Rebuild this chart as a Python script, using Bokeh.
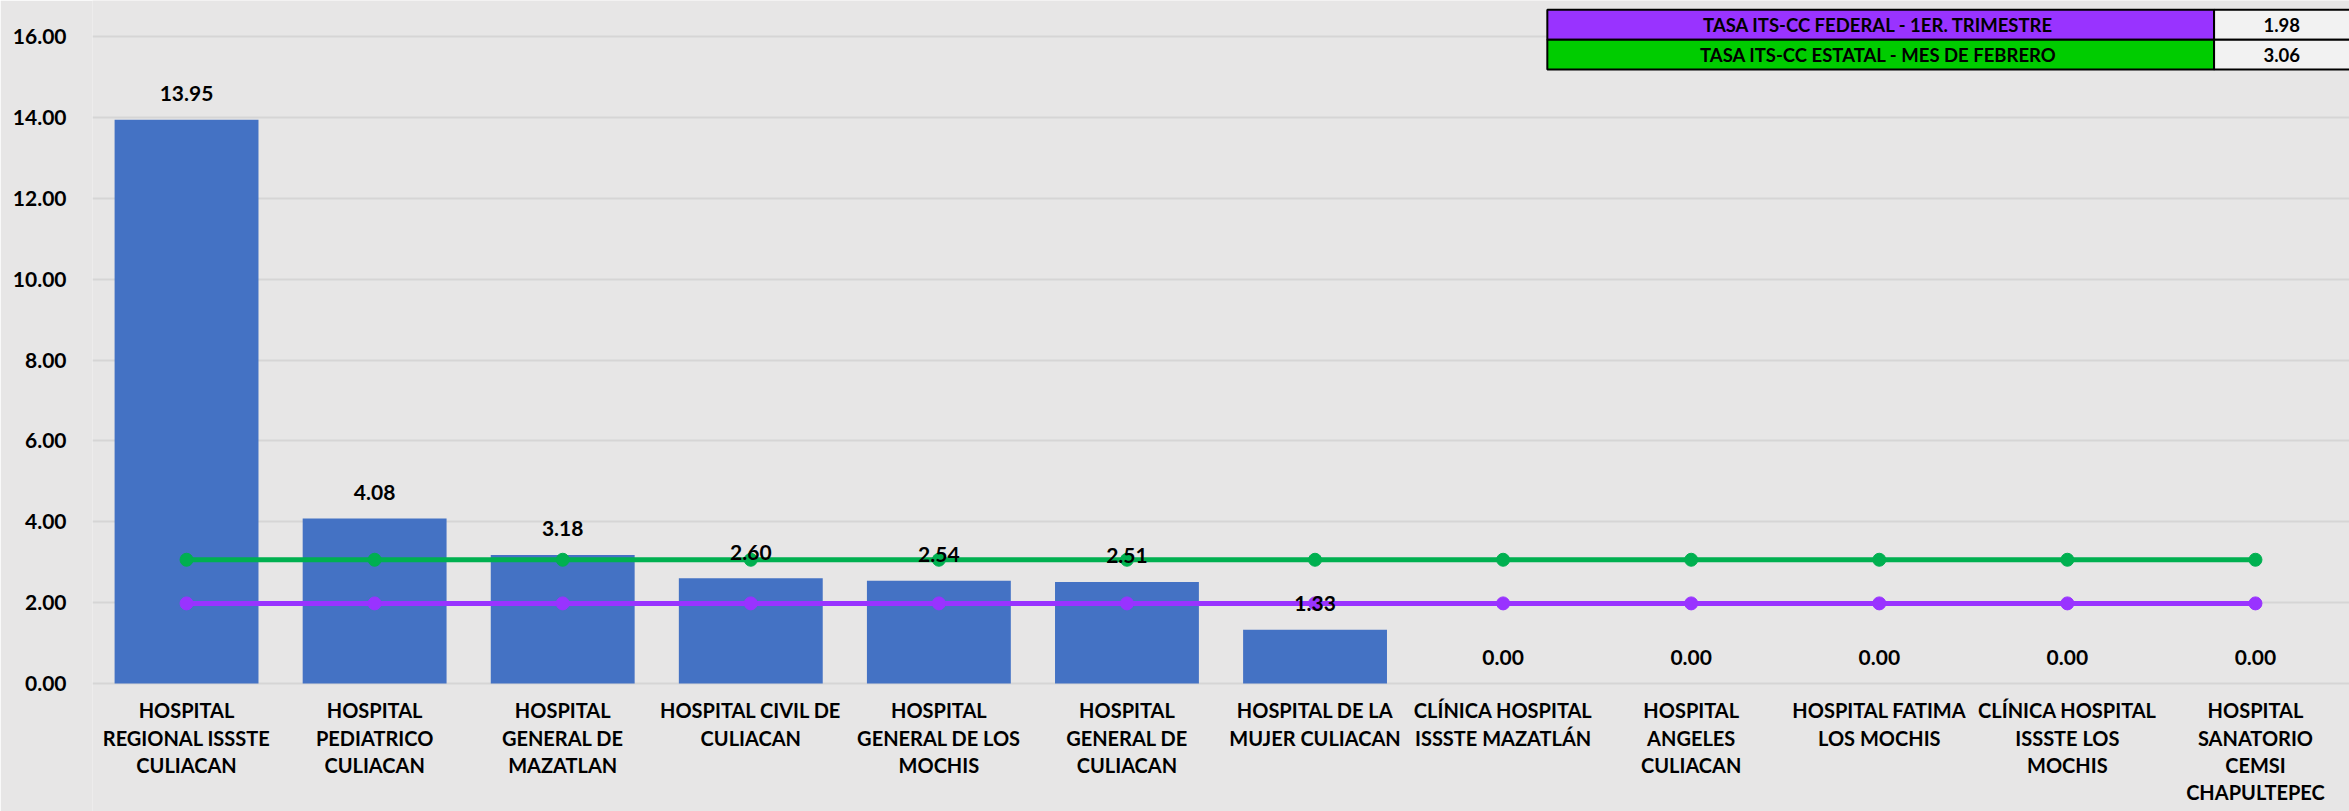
from bokeh.plotting import figure
from bokeh.models import ColumnDataSource, Range1d, FixedTicker, CustomJSTickFormatter
from bokeh.core.properties import value
from bokeh.embed import file_html
from bokeh.resources import INLINE

# ---------------- data ----------------
categories = [
    "HOSPITAL\nREGIONAL ISSSTE\nCULIACAN",
    "HOSPITAL\nPEDIATRICO\nCULIACAN",
    "HOSPITAL\nGENERAL DE\nMAZATLAN",
    "HOSPITAL CIVIL DE\nCULIACAN",
    "HOSPITAL\nGENERAL DE LOS\nMOCHIS",
    "HOSPITAL\nGENERAL DE\nCULIACAN",
    "HOSPITAL DE LA\nMUJER CULIACAN",
    "CLÍNICA HOSPITAL\nISSSTE MAZATLÁN",
    "HOSPITAL\nANGELES\nCULIACAN",
    "HOSPITAL FATIMA\nLOS MOCHIS",
    "CLÍNICA HOSPITAL\nISSSTE LOS\nMOCHIS",
    "HOSPITAL\nSANATORIO\nCEMSI\nCHAPULTEPEC",
]
tasa = [13.95, 4.08, 3.18, 2.60, 2.54, 2.51, 1.33, 0.00, 0.00, 0.00, 0.00, 0.00]
federal_label = "TASA ITS-CC FEDERAL -  1ER. TRIMESTRE"
federal_value = 1.98
estatal_label = "TASA ITS-CC  ESTATAL - MES DE FEBRERO"
estatal_value = 3.06
y_ticks = [0, 2, 4, 6, 8, 10, 12, 14, 16]

# ---------------- styling ----------------
FONT = "Lato"
BG = "#e7e6e6"
BAR = "#4472c4"
GREEN = "#00b050"
PURPLE = "#9933ff"

n = len(categories)
xs = [i + 0.5 for i in range(n)]

src = ColumnDataSource(dict(
    x=xs,
    top=tasa,
    lab=[f"{v:.2f}" for v in tasa],
    cat=categories,
    zero=[0] * n,
    fed=[federal_value] * n,
    est=[estatal_value] * n,
))

p = figure(width=2349, height=811, output_backend="svg", toolbar_location=None,
           x_range=Range1d(0, 12), y_range=Range1d(-3.17, 16.9),
           x_axis_location=None,
           min_border_left=92, min_border_right=0, min_border_top=0, min_border_bottom=0)

p.background_fill_color = BG
p.border_fill_color = BG
p.outline_line_color = None

# y axis
p.yaxis.ticker = FixedTicker(ticks=y_ticks)
p.yaxis.formatter = CustomJSTickFormatter(code="return tick.toFixed(2);")
p.yaxis.axis_line_color = None
p.yaxis.major_tick_line_color = None
p.yaxis.minor_tick_line_color = None
p.yaxis.major_label_standoff = 20
p.yaxis.major_label_text_font = FONT
p.yaxis.major_label_text_font_style = "bold"
p.yaxis.major_label_text_font_size = "21px"
p.yaxis.major_label_text_color = "#000000"

p.ygrid.ticker = FixedTicker(ticks=y_ticks)
p.ygrid.grid_line_color = "#d6d5d5"
p.ygrid.grid_line_width = 2
p.xgrid.grid_line_color = None

# bars
p.vbar(x="x", top="top", bottom=0, width=0.765, source=src,
       fill_color=BAR, line_color=None)

# reference lines
p.line(x="x", y="est", source=src, line_color=GREEN, line_width=5)
p.scatter(x="x", y="est", source=src, size=13, fill_color=GREEN, line_color=GREEN)
p.line(x="x", y="fed", source=src, line_color=PURPLE, line_width=5)
p.scatter(x="x", y="fed", source=src, size=13, fill_color=PURPLE, line_color=PURPLE)

# value labels
p.text(x="x", y="top", text="lab", source=src, y_offset=-26,
       text_align="center", text_baseline="middle",
       text_font=value(FONT), text_font_style="bold", text_font_size="21px",
       text_color="#000000")

# category labels
p.text(x="x", y="zero", text="cat", source=src, y_offset=15,
       text_align="center", text_baseline="top", text_line_height=1.13,
       text_font=value(FONT), text_font_style="bold", text_font_size="20px",
       text_color="#000000")

# legend table (top right)
tl, tm, tr = 7.735, 11.28, 12.6
r0, r1, r2 = 16.67, 15.93, 15.19
tbl = ColumnDataSource(dict(
    left=[tl, tl, tm, tm],
    right=[tm, tm, tr, tr],
    top=[r0, r1, r0, r1],
    bottom=[r1, r2, r1, r2],
    color=[PURPLE, "#00cc00", "#f2f2f2", "#f2f2f2"],
))
p.quad(left="left", right="right", top="top", bottom="bottom", source=tbl,
       fill_color="color", line_color="#000000", line_width=2)
tbl_txt = ColumnDataSource(dict(
    x=[(tl + tm) / 2, (tl + tm) / 2, 11.64, 11.64],
    y=[(r0 + r1) / 2, (r1 + r2) / 2, (r0 + r1) / 2, (r1 + r2) / 2],
    t=[federal_label, estatal_label, f"{federal_value:.2f}", f"{estatal_value:.2f}"],
))
p.text(x="x", y="y", text="t", source=tbl_txt, text_align="center", text_baseline="middle",
       text_font=value(FONT), text_font_style="bold", text_font_size="18.5px",
       text_color="#000000")

open("out.html", "w").write(file_html(p, INLINE))
